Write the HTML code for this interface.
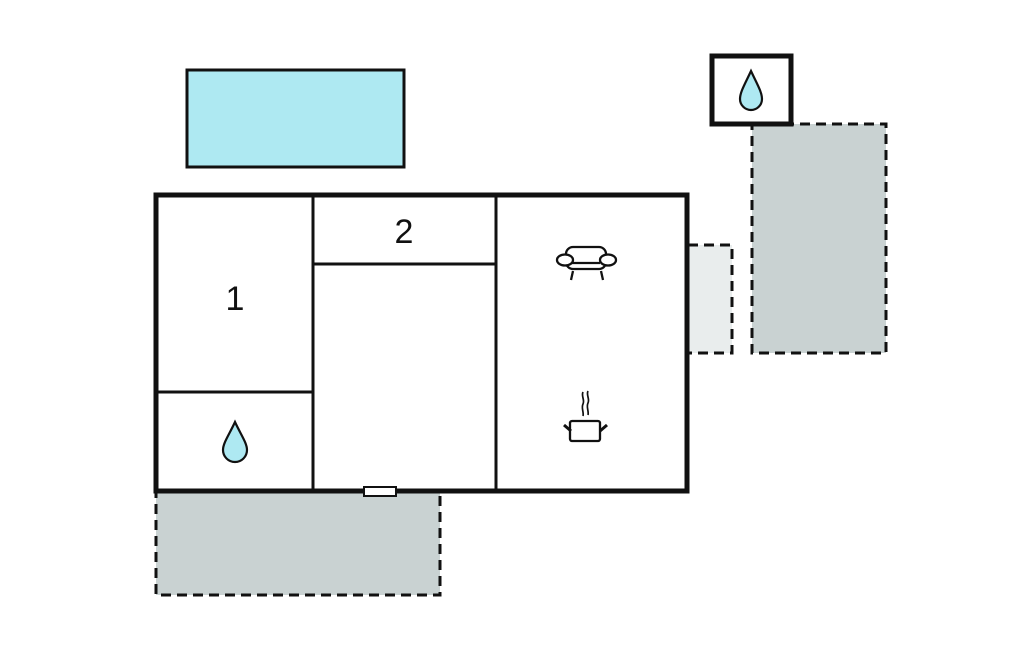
<!DOCTYPE html>
<html><head><meta charset="utf-8"><style>body{margin:0;background:#fff}svg{display:block}</style></head>
<body>
<svg width="1024" height="652" viewBox="0 0 1024 652" xmlns="http://www.w3.org/2000/svg">
<rect x="187" y="70" width="217" height="97" fill="#aee9f2" stroke="#111" stroke-width="3"/>
<rect x="752" y="124" width="134" height="229" fill="#c9d2d2" stroke="#111" stroke-width="3" stroke-dasharray="10,6"/>
<rect x="688" y="245" width="44" height="108" fill="#e9eded" stroke="#111" stroke-width="3" stroke-dasharray="10,6"/>
<rect x="156" y="492" width="284" height="103" fill="#c9d2d2" stroke="#111" stroke-width="3" stroke-dasharray="10,6"/>
<rect x="712" y="56" width="79" height="68" fill="#fff" stroke="#111" stroke-width="5"/>
<path d="M751 71 C745 84 740 92 740 99 A11 11 0 0 0 762 99 C762 92 757 84 751 71 Z" fill="#aee9f2" stroke="#111" stroke-width="2.2"/>
<rect x="156" y="195" width="531" height="296" fill="#fff" stroke="#111" stroke-width="5"/>
<g stroke="#111" stroke-width="3" fill="none">
<line x1="313" y1="195" x2="313" y2="491"/>
<line x1="496" y1="195" x2="496" y2="491"/>
<line x1="313" y1="264" x2="496" y2="264"/>
<line x1="156" y1="392" x2="313" y2="392"/>
</g>
<rect x="364" y="487" width="32" height="9" fill="#fff" stroke="#111" stroke-width="2"/>
<text x="235" y="310" font-family="Liberation Sans, sans-serif" font-size="34" text-anchor="middle" fill="#111">1</text>
<text x="404" y="243" font-family="Liberation Sans, sans-serif" font-size="34" text-anchor="middle" fill="#111">2</text>
<path d="M235 422 C229 435 223 443 223 450 A12 12 0 0 0 247 450 C247 443 241 435 235 422 Z" fill="#aee9f2" stroke="#111" stroke-width="2.2"/>
<g stroke="#111" stroke-width="2.3" fill="#fff">
<rect x="566" y="247" width="40" height="22" rx="7"/>
<line x1="572" y1="263" x2="600" y2="263"/>
<ellipse cx="565" cy="260" rx="8" ry="5.5"/>
<ellipse cx="608" cy="260" rx="8" ry="5.5"/>
<line x1="573" y1="271" x2="571" y2="280"/>
<line x1="601" y1="271" x2="603" y2="280"/>
<rect x="570" y="421" width="30" height="20" rx="2"/>
<line x1="564" y1="425" x2="571" y2="431" stroke-width="3"/>
<line x1="607" y1="425" x2="600" y2="431" stroke-width="3"/>
<path d="M583 392 c-2 4 2 8 0 12 c-2 4 1 8 0 12 M588 391 c-2 4 2 8 0 12 c-2 4 1 8 0 12" fill="none" stroke-width="1.7"/>
</g>
</svg>
</body></html>
